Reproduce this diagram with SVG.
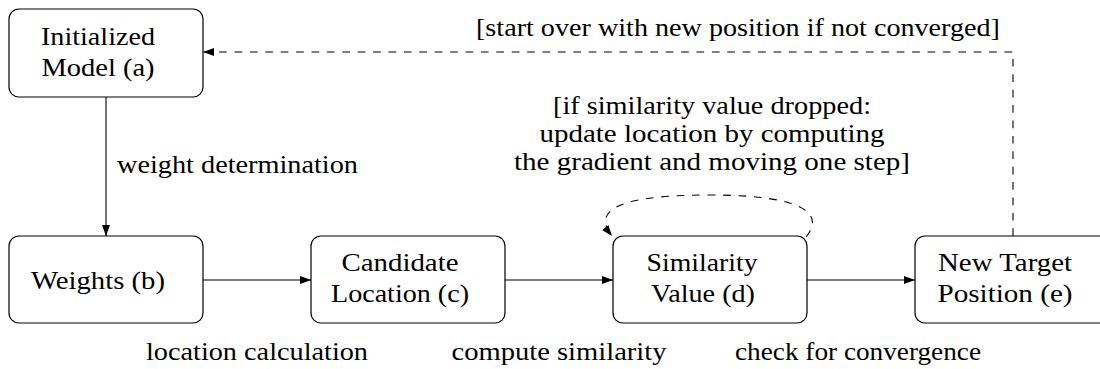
<svg xmlns="http://www.w3.org/2000/svg" width="1100" height="369" viewBox="0 0 1100 369">
<defs>
<style>
.node{fill:#fff;stroke:#000;stroke-width:1.2}
.c{text-anchor:middle}
.edge{fill:none;stroke:#000;stroke-width:1.1}
.dash{stroke-dasharray:7.7 7.7}
</style>
<marker id="ah" viewBox="0 0 11 8" refX="11" refY="4" markerWidth="11" markerHeight="8" markerUnits="userSpaceOnUse" orient="auto">
<path d="M0,0 L11,4 L0,8 Z" fill="#000"/>
</marker>
</defs>
<rect width="1100" height="369" fill="#fff"/>
<g id="connectors">
<path class="edge" d="M106,97 V236" marker-end="url(#ah)"/>
<path class="edge" d="M203,280 H311" marker-end="url(#ah)"/>
<path class="edge" d="M505,280 H613" marker-end="url(#ah)"/>
<path class="edge" d="M807,280 H915" marker-end="url(#ah)"/>
<path class="edge dash" d="M1013,236 V52 H203" marker-end="url(#ah)"/>
<path class="edge dash" d="M806,237 C822,218 815,195 709,195 C603,195 596,216 612,236" marker-end="url(#ah)"/>
<text font-family="Liberation Serif, serif" font-size="25.5" x="117" y="173" textLength="241" lengthAdjust="spacingAndGlyphs">weight determination</text>
<text font-family="Liberation Serif, serif" font-size="25.5" class="c" x="738" y="36" textLength="524" lengthAdjust="spacingAndGlyphs">[start over with new position if not converged]</text>
<text font-family="Liberation Serif, serif" font-size="25.5" class="c" x="712" y="114" textLength="318" lengthAdjust="spacingAndGlyphs">[if similarity value dropped:</text>
<text font-family="Liberation Serif, serif" font-size="25.5" class="c" x="712" y="142" textLength="345" lengthAdjust="spacingAndGlyphs">update location by computing</text>
<text font-family="Liberation Serif, serif" font-size="25.5" class="c" x="712" y="170" textLength="396" lengthAdjust="spacingAndGlyphs">the gradient and moving one step]</text>
<text font-family="Liberation Serif, serif" font-size="25.5" class="c" x="257" y="360" textLength="222" lengthAdjust="spacingAndGlyphs">location calculation</text>
<text font-family="Liberation Serif, serif" font-size="25.5" class="c" x="559" y="360" textLength="215" lengthAdjust="spacingAndGlyphs">compute similarity</text>
<text font-family="Liberation Serif, serif" font-size="25.5" class="c" x="858" y="360" textLength="246" lengthAdjust="spacingAndGlyphs">check for convergence</text>
</g>
<g id="node-a">
<rect class="node" x="9" y="9" width="194" height="88" rx="10"/>
<text font-family="Liberation Serif, serif" font-size="25.5" class="c" x="98" y="45" textLength="114" lengthAdjust="spacingAndGlyphs">Initialized</text>
<text font-family="Liberation Serif, serif" font-size="25.5" class="c" x="98" y="76" textLength="113" lengthAdjust="spacingAndGlyphs">Model (a)</text>
</g>
<g id="node-b">
<rect class="node" x="9" y="236" width="194" height="87" rx="10"/>
<text font-family="Liberation Serif, serif" font-size="25.5" class="c" x="98" y="289" textLength="134" lengthAdjust="spacingAndGlyphs">Weights (b)</text>
</g>
<g id="node-c">
<rect class="node" x="311" y="236" width="194" height="87" rx="10"/>
<text font-family="Liberation Serif, serif" font-size="25.5" class="c" x="400" y="271" textLength="117" lengthAdjust="spacingAndGlyphs">Candidate</text>
<text font-family="Liberation Serif, serif" font-size="25.5" class="c" x="400" y="302" textLength="138" lengthAdjust="spacingAndGlyphs">Location (c)</text>
</g>
<g id="node-d">
<rect class="node" x="613" y="236" width="194" height="87" rx="10"/>
<text font-family="Liberation Serif, serif" font-size="25.5" class="c" x="702" y="271" textLength="111" lengthAdjust="spacingAndGlyphs">Similarity</text>
<text font-family="Liberation Serif, serif" font-size="25.5" class="c" x="703" y="302" textLength="104" lengthAdjust="spacingAndGlyphs">Value (d)</text>
</g>
<g id="node-e">
<rect class="node" x="915" y="236" width="196" height="87" rx="10"/>
<text font-family="Liberation Serif, serif" font-size="25.5" class="c" x="1005" y="271" textLength="134" lengthAdjust="spacingAndGlyphs">New Target</text>
<text font-family="Liberation Serif, serif" font-size="25.5" class="c" x="1005" y="302" textLength="135" lengthAdjust="spacingAndGlyphs">Position (e)</text>
</g>
</svg>
